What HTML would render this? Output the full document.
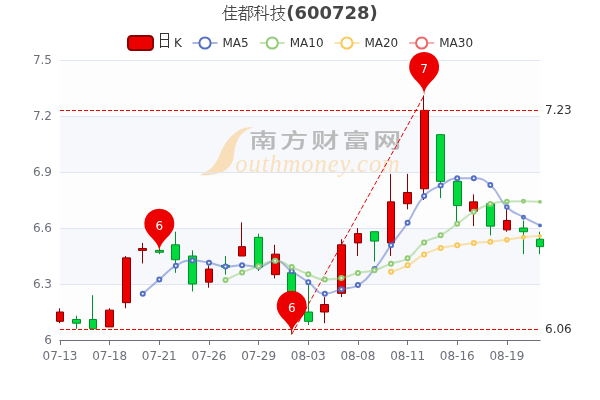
<!DOCTYPE html>
<html lang="zh"><head><meta charset="utf-8"><title>佳都科技(600728)</title>
<style>html,body{margin:0;padding:0;background:#fff}svg{display:block}text{font-family:"DejaVu Sans","Liberation Sans","Unifont","WenQuanYi Zen Hei","Noto Sans CJK SC",sans-serif}</style></head>
<body>
<svg width="600" height="400" viewBox="0 0 600 400">
<defs><clipPath id="g"><rect x="60" y="60" width="480" height="280"/></clipPath></defs>
<rect width="600" height="400" fill="#fff"/>
<rect x="60" y="284" width="480" height="56" fill="rgba(250,250,250,0.3)"/>
<rect x="60" y="228" width="480" height="56" fill="rgba(210,219,238,0.2)"/>
<rect x="60" y="172" width="480" height="56" fill="rgba(250,250,250,0.3)"/>
<rect x="60" y="116" width="480" height="56" fill="rgba(210,219,238,0.2)"/>
<rect x="60" y="60" width="480" height="56" fill="rgba(250,250,250,0.3)"/>
<g id="wm">
<path d="M253.6 126.9C252.15 127.05 247.65 127.05 244.9 127.8C242.15 128.55 239.45 129.9 237.1 131.4C234.75 132.9 232.62 135 230.8 136.8C228.97 138.6 227.42 140.42 226.15 142.2C224.87 143.97 224.02 145.8 223.15 147.45C222.27 149.1 221.65 150.42 220.9 152.1C220.15 153.77 219.5 155.75 218.65 157.5C217.8 159.25 216.97 160.9 215.8 162.6C214.62 164.3 213.17 166.2 211.6 167.7C210.02 169.2 208.35 170.35 206.35 171.6C204.35 172.85 200.72 174.6 199.6 175.2L199.6 175.2C201.15 175.17 206.05 175.3 208.9 175.05C211.75 174.8 214.35 174.3 216.7 173.7C219.05 173.1 221.17 172.35 223 171.45C224.82 170.55 226.25 169.57 227.65 168.3C229.05 167.02 230.45 165.35 231.4 163.8C232.35 162.25 232.92 160.55 233.35 159C233.77 157.45 233.7 156.25 233.95 154.5C234.2 152.75 234.4 150.5 234.85 148.5C235.3 146.5 235.87 144.45 236.65 142.5C237.42 140.55 238.3 138.5 239.5 136.8C240.7 135.1 242.4 133.55 243.85 132.3C245.3 131.05 246.57 130.2 248.2 129.3C249.82 128.4 252.7 127.3 253.6 126.9Z" fill="#f8deb9"/>
<text transform="translate(249.3 148.2) scale(1 0.715)" x="0" y="0" font-size="28" font-weight="500" fill="#b9b9b9" stroke="#b9b9b9" stroke-width="0.3" letter-spacing="3" style="font-family:'Noto Sans CJK SC','WenQuanYi Zen Hei',sans-serif">南方财富网</text>
<text x="235.3" y="171.8" font-size="24.5" font-style="italic" fill="#f9e0bc" letter-spacing="0.95" style="font-family:'Liberation Serif','DejaVu Serif',serif">outhmoney.com</text>
</g>
<path d="M60 340.5 H540" stroke="#E0E6F1" stroke-width="1" fill="none"/>
<path d="M60 284.5 H540" stroke="#E0E6F1" stroke-width="1" fill="none"/>
<path d="M60 228.5 H540" stroke="#E0E6F1" stroke-width="1" fill="none"/>
<path d="M60 172.5 H540" stroke="#E0E6F1" stroke-width="1" fill="none"/>
<path d="M60 116.5 H540" stroke="#E0E6F1" stroke-width="1" fill="none"/>
<path d="M60 60.5 H540" stroke="#E0E6F1" stroke-width="1" fill="none"/>
<path d="M59.5 340.5 H540.5" stroke="#6E7079" stroke-width="1" fill="none"/>
<path d="M60.5 340 V345" stroke="#6E7079" stroke-width="1" fill="none"/>
<path d="M109.5 340 V345" stroke="#6E7079" stroke-width="1" fill="none"/>
<path d="M159.5 340 V345" stroke="#6E7079" stroke-width="1" fill="none"/>
<path d="M209.5 340 V345" stroke="#6E7079" stroke-width="1" fill="none"/>
<path d="M258.5 340 V345" stroke="#6E7079" stroke-width="1" fill="none"/>
<path d="M308.5 340 V345" stroke="#6E7079" stroke-width="1" fill="none"/>
<path d="M358.5 340 V345" stroke="#6E7079" stroke-width="1" fill="none"/>
<path d="M407.5 340 V345" stroke="#6E7079" stroke-width="1" fill="none"/>
<path d="M457.5 340 V345" stroke="#6E7079" stroke-width="1" fill="none"/>
<path d="M507.5 340 V345" stroke="#6E7079" stroke-width="1" fill="none"/>
<text x="60" y="359.5" font-size="12" fill="#6E7079" text-anchor="middle">07-13</text>
<text x="109.66" y="359.5" font-size="12" fill="#6E7079" text-anchor="middle">07-18</text>
<text x="159.31" y="359.5" font-size="12" fill="#6E7079" text-anchor="middle">07-21</text>
<text x="208.97" y="359.5" font-size="12" fill="#6E7079" text-anchor="middle">07-26</text>
<text x="258.62" y="359.5" font-size="12" fill="#6E7079" text-anchor="middle">07-29</text>
<text x="308.28" y="359.5" font-size="12" fill="#6E7079" text-anchor="middle">08-03</text>
<text x="357.93" y="359.5" font-size="12" fill="#6E7079" text-anchor="middle">08-08</text>
<text x="407.59" y="359.5" font-size="12" fill="#6E7079" text-anchor="middle">08-11</text>
<text x="457.24" y="359.5" font-size="12" fill="#6E7079" text-anchor="middle">08-16</text>
<text x="506.9" y="359.5" font-size="12" fill="#6E7079" text-anchor="middle">08-19</text>
<text x="52" y="343.8" font-size="12" fill="#6E7079" text-anchor="end">6</text>
<text x="52" y="287.8" font-size="12" fill="#6E7079" text-anchor="end">6.3</text>
<text x="52" y="231.8" font-size="12" fill="#6E7079" text-anchor="end">6.6</text>
<text x="52" y="175.8" font-size="12" fill="#6E7079" text-anchor="end">6.9</text>
<text x="52" y="119.8" font-size="12" fill="#6E7079" text-anchor="end">7.2</text>
<text x="52" y="63.8" font-size="12" fill="#6E7079" text-anchor="end">7.5</text>
<path d="M56.5 312L63.5 312L63.5 321.33L56.5 321.33ZM59.5 308.27L59.5 312M59.5 323.2L59.5 321.33" fill="#ec0000" stroke="#8A0000" stroke-width="1"/>
<path d="M72.5 319.47L80.5 319.47L80.5 323.2L72.5 323.2ZM76.5 315.73L76.5 319.47M76.5 328.8L76.5 323.2" fill="#00da3c" stroke="#008F28" stroke-width="1"/>
<path d="M89.5 319.47L96.5 319.47L96.5 328.8L89.5 328.8ZM92.5 295.2L92.5 319.47M92.5 328.8L92.5 328.8" fill="#00da3c" stroke="#008F28" stroke-width="1"/>
<path d="M105.5 310.13L113.5 310.13L113.5 326.93L105.5 326.93ZM109.5 308.27L109.5 310.13M109.5 326.93L109.5 326.93" fill="#ec0000" stroke="#8A0000" stroke-width="1"/>
<path d="M122.5 257.87L130.5 257.87L130.5 302.67L122.5 302.67ZM125.5 256L125.5 257.87M125.5 308.27L125.5 302.67" fill="#ec0000" stroke="#8A0000" stroke-width="1"/>
<path d="M138.5 248.53L146.5 248.53L146.5 250.4L138.5 250.4ZM142.5 242.93L142.5 248.53M142.5 263.47L142.5 250.4" fill="#ec0000" stroke="#8A0000" stroke-width="1"/>
<path d="M155.5 250.4L163.5 250.4L163.5 252.27L155.5 252.27ZM159.5 248.53L159.5 250.4M159.5 254.13L159.5 252.27" fill="#00da3c" stroke="#008F28" stroke-width="1"/>
<path d="M171.5 244.8L179.5 244.8L179.5 259.73L171.5 259.73ZM175.5 231.73L175.5 244.8M175.5 272.8L175.5 259.73" fill="#00da3c" stroke="#008F28" stroke-width="1"/>
<path d="M188.5 256L196.5 256L196.5 284L188.5 284ZM192.5 250.4L192.5 256M192.5 291.47L192.5 284" fill="#00da3c" stroke="#008F28" stroke-width="1"/>
<path d="M205.5 269.07L212.5 269.07L212.5 282.13L205.5 282.13ZM208.5 265.33L208.5 269.07M208.5 287.73L208.5 282.13" fill="#ec0000" stroke="#8A0000" stroke-width="1"/>
<path d="M221.5 265.33L229.5 265.33L229.5 267.2L221.5 267.2ZM225.5 256L225.5 265.33M225.5 274.67L225.5 267.2" fill="#00da3c" stroke="#008F28" stroke-width="1"/>
<path d="M238.5 246.67L245.5 246.67L245.5 256L238.5 256ZM241.5 222.4L241.5 246.67M241.5 256L241.5 256" fill="#ec0000" stroke="#8A0000" stroke-width="1"/>
<path d="M254.5 237.33L262.5 237.33L262.5 267.2L254.5 267.2ZM258.5 233.6L258.5 237.33M258.5 270.93L258.5 267.2" fill="#00da3c" stroke="#008F28" stroke-width="1"/>
<path d="M271.5 254.13L279.5 254.13L279.5 274.67L271.5 274.67ZM274.5 244.8L274.5 254.13M274.5 278.4L274.5 274.67" fill="#ec0000" stroke="#8A0000" stroke-width="1"/>
<path d="M287.5 272.8L295.5 272.8L295.5 321.33L287.5 321.33ZM291.5 270.93L291.5 272.8M291.5 334.4L291.5 321.33" fill="#00da3c" stroke="#008F28" stroke-width="1"/>
<path d="M304.5 312L312.5 312L312.5 321.33L304.5 321.33ZM308.5 284L308.5 312M308.5 325.07L308.5 321.33" fill="#00da3c" stroke="#008F28" stroke-width="1"/>
<path d="M320.5 304.53L328.5 304.53L328.5 312L320.5 312ZM324.5 297.07L324.5 304.53M324.5 323.2L324.5 312" fill="#ec0000" stroke="#8A0000" stroke-width="1"/>
<path d="M337.5 244.8L345.5 244.8L345.5 293.33L337.5 293.33ZM341.5 239.2L341.5 244.8M341.5 297.07L341.5 293.33" fill="#ec0000" stroke="#8A0000" stroke-width="1"/>
<path d="M354.5 233.6L361.5 233.6L361.5 242.93L354.5 242.93ZM357.5 228L357.5 233.6M357.5 256L357.5 242.93" fill="#ec0000" stroke="#8A0000" stroke-width="1"/>
<path d="M370.5 231.73L378.5 231.73L378.5 241.07L370.5 241.07ZM374.5 231.73L374.5 231.73M374.5 261.6L374.5 241.07" fill="#00da3c" stroke="#008F28" stroke-width="1"/>
<path d="M387.5 201.87L394.5 201.87L394.5 242.93L387.5 242.93ZM390.5 173.87L390.5 201.87M390.5 256L390.5 242.93" fill="#ec0000" stroke="#8A0000" stroke-width="1"/>
<path d="M403.5 192.53L411.5 192.53L411.5 203.73L403.5 203.73ZM407.5 173.87L407.5 192.53M407.5 209.33L407.5 203.73" fill="#ec0000" stroke="#8A0000" stroke-width="1"/>
<path d="M420.5 110.4L428.5 110.4L428.5 188.8L420.5 188.8ZM423.5 95.47L423.5 110.4M423.5 200L423.5 188.8" fill="#ec0000" stroke="#8A0000" stroke-width="1"/>
<path d="M436.5 134.67L444.5 134.67L444.5 181.33L436.5 181.33ZM440.5 134.67L440.5 134.67M440.5 198.13L440.5 181.33" fill="#00da3c" stroke="#008F28" stroke-width="1"/>
<path d="M453.5 181.33L461.5 181.33L461.5 205.6L453.5 205.6ZM456.5 179.47L456.5 181.33M456.5 226.13L456.5 205.6" fill="#00da3c" stroke="#008F28" stroke-width="1"/>
<path d="M469.5 201.87L477.5 201.87L477.5 211.2L469.5 211.2ZM473.5 194.4L473.5 201.87M473.5 226.13L473.5 211.2" fill="#ec0000" stroke="#8A0000" stroke-width="1"/>
<path d="M486.5 203.73L494.5 203.73L494.5 226.13L486.5 226.13ZM490.5 201.87L490.5 203.73M490.5 235.47L490.5 226.13" fill="#00da3c" stroke="#008F28" stroke-width="1"/>
<path d="M503.5 220.53L510.5 220.53L510.5 229.87L503.5 229.87ZM506.5 209.33L506.5 220.53M506.5 231.73L506.5 229.87" fill="#ec0000" stroke="#8A0000" stroke-width="1"/>
<path d="M519.5 228L527.5 228L527.5 231.73L519.5 231.73ZM523.5 220.53L523.5 228M523.5 254.13L523.5 231.73" fill="#00da3c" stroke="#008F28" stroke-width="1"/>
<path d="M536.5 239.2L543.5 239.2L543.5 246.67L536.5 246.67ZM539.5 231.73L539.5 239.2M539.5 254.13L539.5 246.67" fill="#00da3c" stroke="#008F28" stroke-width="1"/>
<path d="M291.72 334.4L424.14 95.47" stroke="#ec0000" stroke-width="1" stroke-dasharray="4.56 2.28" fill="none"/>
<path d="M60 329.5 H540" stroke="#ec0000" stroke-width="1" stroke-dasharray="4 2" fill="none"/>
<text x="545" y="332.5" font-size="12" fill="#333">6.06</text>
<path d="M60 110.5 H540" stroke="#ec0000" stroke-width="1" stroke-dasharray="4 2" fill="none"/>
<text x="545" y="113.5" font-size="12" fill="#333">7.23</text>
<path d="M410.59 73.32A15 15 0 1 1 437.69 73.32C433.83 81.46 424.14 84.97 424.14 95.47C424.14 84.97 414.44 81.46 410.59 73.32Z" fill="#ec0000"/>
<text x="424.14" y="73.3" font-size="12" fill="#fff" text-anchor="middle">7</text>
<path d="M278.17 312.26A15 15 0 1 1 305.28 312.26C301.42 320.39 291.72 323.9 291.72 334.4C291.72 323.9 282.03 320.39 278.17 312.26Z" fill="#ec0000"/>
<text x="291.72" y="312.23" font-size="12" fill="#fff" text-anchor="middle">6</text>
<path d="M145.76 230.06A15 15 0 1 1 172.86 230.06C169.01 238.19 159.31 241.7 159.31 252.2C159.31 241.7 149.61 238.19 145.76 230.06Z" fill="#ec0000"/>
<text x="159.31" y="230.03" font-size="12" fill="#fff" text-anchor="middle">6</text>
<g clip-path="url(#g)">
<path d="M142.76 293.71C142.76 293.71 150.99 286.56 159.31 279.52C167.54 272.56 166.69 270.98 175.86 265.71C183.24 261.46 183.98 260.48 192.41 260.48C200.53 260.48 200.75 261.24 208.97 262.72C217.31 264.23 217.15 266.45 225.52 266.45C233.7 266.45 233.8 265.33 242.07 265.33C250.35 265.33 250.58 266.83 258.62 266.83C267.13 266.83 267.34 260.85 275.17 260.85C283.89 260.85 283.49 266.01 291.72 271.31C300.04 276.65 300.09 276.59 308.28 282.13C316.64 287.79 315.88 293.71 324.83 293.71C332.43 293.71 333.08 291.38 341.38 289.23C349.63 287.09 350.89 289.23 357.93 285.12C367.45 279.57 367.16 277.9 374.48 269.07C383.71 257.93 382.58 256.99 391.03 245.17C399.13 233.85 399.83 234.32 407.59 222.77C416.38 209.68 413.92 207.41 424.14 195.89C430.47 188.75 432.07 190.01 440.69 185.44C448.62 181.24 448.62 178.35 457.24 178.35C465.17 178.35 465.83 178.35 473.79 178.35C482.38 178.35 483.83 179.41 490.34 185.07C500.39 193.79 497.18 197.67 506.9 207.09C513.73 213.72 514.98 212.49 523.45 217.17C531.53 221.64 540 225.39 540 225.39" fill="none" stroke="#5470c6" stroke-width="2" stroke-opacity="0.5" stroke-linejoin="bevel"/>
</g>
<circle cx="142.76" cy="293.71" r="2" fill="#fff" stroke="#5470c6" stroke-width="2"/>
<circle cx="159.31" cy="279.52" r="2" fill="#fff" stroke="#5470c6" stroke-width="2"/>
<circle cx="175.86" cy="265.71" r="2" fill="#fff" stroke="#5470c6" stroke-width="2"/>
<circle cx="192.41" cy="260.48" r="2" fill="#fff" stroke="#5470c6" stroke-width="2"/>
<circle cx="208.97" cy="262.72" r="2" fill="#fff" stroke="#5470c6" stroke-width="2"/>
<circle cx="225.52" cy="266.45" r="2" fill="#fff" stroke="#5470c6" stroke-width="2"/>
<circle cx="242.07" cy="265.33" r="2" fill="#fff" stroke="#5470c6" stroke-width="2"/>
<circle cx="258.62" cy="266.83" r="2" fill="#fff" stroke="#5470c6" stroke-width="2"/>
<circle cx="275.17" cy="260.85" r="2" fill="#fff" stroke="#5470c6" stroke-width="2"/>
<circle cx="291.72" cy="271.31" r="2" fill="#fff" stroke="#5470c6" stroke-width="2"/>
<circle cx="308.28" cy="282.13" r="2" fill="#fff" stroke="#5470c6" stroke-width="2"/>
<circle cx="324.83" cy="293.71" r="2" fill="#fff" stroke="#5470c6" stroke-width="2"/>
<circle cx="341.38" cy="289.23" r="2" fill="#fff" stroke="#5470c6" stroke-width="2"/>
<circle cx="357.93" cy="285.12" r="2" fill="#fff" stroke="#5470c6" stroke-width="2"/>
<circle cx="374.48" cy="269.07" r="2" fill="#fff" stroke="#5470c6" stroke-width="2"/>
<circle cx="391.03" cy="245.17" r="2" fill="#fff" stroke="#5470c6" stroke-width="2"/>
<circle cx="407.59" cy="222.77" r="2" fill="#fff" stroke="#5470c6" stroke-width="2"/>
<circle cx="424.14" cy="195.89" r="2" fill="#fff" stroke="#5470c6" stroke-width="2"/>
<circle cx="440.69" cy="185.44" r="2" fill="#fff" stroke="#5470c6" stroke-width="2"/>
<circle cx="457.24" cy="178.35" r="2" fill="#fff" stroke="#5470c6" stroke-width="2"/>
<circle cx="473.79" cy="178.35" r="2" fill="#fff" stroke="#5470c6" stroke-width="2"/>
<circle cx="490.34" cy="185.07" r="1.95" fill="#fff" stroke="#5470c6" stroke-width="2"/>
<circle cx="506.9" cy="207.09" r="1.8" fill="#fff" stroke="#5470c6" stroke-width="2"/>
<circle cx="523.45" cy="217.17" r="1.48" fill="#fff" stroke="#5470c6" stroke-width="2"/>
<circle cx="540" cy="225.39" r="0.94" fill="#fff" stroke="#5470c6" stroke-width="2"/>
<g clip-path="url(#g)">
<path d="M225.52 280.08C225.52 280.08 233.66 275.94 242.07 272.43C250.21 269.03 250.3 269.22 258.62 266.27C266.85 263.34 266.96 260.67 275.17 260.67C283.51 260.67 283.53 263.64 291.72 267.01C300.08 270.45 299.83 271.1 308.28 274.29C316.38 277.36 316.37 279.52 324.83 279.52C332.92 279.52 333.27 279.52 341.38 278.03C349.82 276.47 349.53 274.98 357.93 272.99C366.08 271.06 366.45 272.45 374.48 270.19C383 267.79 382.67 266.67 391.03 263.65C399.22 260.7 400.42 262.81 407.59 258.24C416.97 252.26 414.91 248.96 424.14 242.56C431.46 237.48 432.87 239.73 440.69 235.28C449.42 230.31 449.01 229.56 457.24 223.71C465.56 217.8 465.07 216.97 473.79 211.76C481.62 207.08 481.69 206.58 490.34 203.92C498.25 201.49 498.58 201.68 506.9 201.49C515.13 201.31 515.17 201.31 523.45 201.31C531.73 201.31 540 201.87 540 201.87" fill="none" stroke="#91cc75" stroke-width="2" stroke-opacity="0.5" stroke-linejoin="bevel"/>
</g>
<circle cx="225.52" cy="280.08" r="2" fill="#fff" stroke="#91cc75" stroke-width="2"/>
<circle cx="242.07" cy="272.43" r="2" fill="#fff" stroke="#91cc75" stroke-width="2"/>
<circle cx="258.62" cy="266.27" r="2" fill="#fff" stroke="#91cc75" stroke-width="2"/>
<circle cx="275.17" cy="260.67" r="2" fill="#fff" stroke="#91cc75" stroke-width="2"/>
<circle cx="291.72" cy="267.01" r="2" fill="#fff" stroke="#91cc75" stroke-width="2"/>
<circle cx="308.28" cy="274.29" r="2" fill="#fff" stroke="#91cc75" stroke-width="2"/>
<circle cx="324.83" cy="279.52" r="2" fill="#fff" stroke="#91cc75" stroke-width="2"/>
<circle cx="341.38" cy="278.03" r="2" fill="#fff" stroke="#91cc75" stroke-width="2"/>
<circle cx="357.93" cy="272.99" r="2" fill="#fff" stroke="#91cc75" stroke-width="2"/>
<circle cx="374.48" cy="270.19" r="2" fill="#fff" stroke="#91cc75" stroke-width="2"/>
<circle cx="391.03" cy="263.65" r="2" fill="#fff" stroke="#91cc75" stroke-width="2"/>
<circle cx="407.59" cy="258.24" r="2" fill="#fff" stroke="#91cc75" stroke-width="2"/>
<circle cx="424.14" cy="242.56" r="2" fill="#fff" stroke="#91cc75" stroke-width="2"/>
<circle cx="440.69" cy="235.28" r="2" fill="#fff" stroke="#91cc75" stroke-width="2"/>
<circle cx="457.24" cy="223.71" r="2" fill="#fff" stroke="#91cc75" stroke-width="2"/>
<circle cx="473.79" cy="211.76" r="2" fill="#fff" stroke="#91cc75" stroke-width="2"/>
<circle cx="490.34" cy="203.92" r="1.95" fill="#fff" stroke="#91cc75" stroke-width="2"/>
<circle cx="506.9" cy="201.49" r="1.8" fill="#fff" stroke="#91cc75" stroke-width="2"/>
<circle cx="523.45" cy="201.31" r="1.48" fill="#fff" stroke="#91cc75" stroke-width="2"/>
<circle cx="540" cy="201.87" r="0.94" fill="#fff" stroke="#91cc75" stroke-width="2"/>
<g clip-path="url(#g)">
<path d="M391.03 271.87C391.03 271.87 399.76 269.46 407.59 265.33C416.31 260.73 415.41 258.99 424.14 254.41C431.96 250.31 432.17 250.3 440.69 247.97C448.72 245.78 448.96 246.6 457.24 245.36C465.51 244.12 465.49 243.94 473.79 243.03C482.04 242.12 482.08 242.54 490.34 241.72C498.64 240.9 498.64 240.9 506.9 239.76C515.19 238.61 515.13 238.08 523.45 237.15C531.68 236.22 540 236.03 540 236.03" fill="none" stroke="#fac858" stroke-width="2" stroke-opacity="0.5" stroke-linejoin="bevel"/>
</g>
<circle cx="391.03" cy="271.87" r="2" fill="#fff" stroke="#fac858" stroke-width="2"/>
<circle cx="407.59" cy="265.33" r="2" fill="#fff" stroke="#fac858" stroke-width="2"/>
<circle cx="424.14" cy="254.41" r="2" fill="#fff" stroke="#fac858" stroke-width="2"/>
<circle cx="440.69" cy="247.97" r="2" fill="#fff" stroke="#fac858" stroke-width="2"/>
<circle cx="457.24" cy="245.36" r="2" fill="#fff" stroke="#fac858" stroke-width="2"/>
<circle cx="473.79" cy="243.03" r="2" fill="#fff" stroke="#fac858" stroke-width="2"/>
<circle cx="490.34" cy="241.72" r="1.95" fill="#fff" stroke="#fac858" stroke-width="2"/>
<circle cx="506.9" cy="239.76" r="1.8" fill="#fff" stroke="#fac858" stroke-width="2"/>
<circle cx="523.45" cy="237.15" r="1.48" fill="#fff" stroke="#fac858" stroke-width="2"/>
<circle cx="540" cy="236.03" r="0.94" fill="#fff" stroke="#fac858" stroke-width="2"/>
<text x="300" y="19" font-size="18" fill="#464646" text-anchor="middle"><tspan font-size="16" style="font-family:Unifont,'WenQuanYi Zen Hei','Noto Sans CJK SC',sans-serif">佳都科技</tspan><tspan font-weight="bold">(600728)</tspan></text>
<rect x="128" y="36" width="25" height="14" rx="3.5" ry="3.5" fill="#ec0000" stroke="#8A0000" stroke-width="2"/>
<text x="157" y="47" font-size="12" fill="#333"><tspan font-size="16" dy="-1" style="font-family:Unifont,'WenQuanYi Zen Hei','Noto Sans CJK SC',sans-serif">日</tspan><tspan x="174" dy="1">K</tspan></text>
<path d="M192.5 43H217.5" stroke="#5470c6" stroke-width="2" stroke-opacity="0.5" fill="none"/>
<circle cx="205" cy="43" r="5.6" fill="#fff" stroke="#5470c6" stroke-width="2"/>
<text x="222.5" y="47" font-size="12" fill="#333">MA5</text>
<path d="M259.75 43H284.75" stroke="#91cc75" stroke-width="2" stroke-opacity="0.5" fill="none"/>
<circle cx="272.25" cy="43" r="5.6" fill="#fff" stroke="#91cc75" stroke-width="2"/>
<text x="289.75" y="47" font-size="12" fill="#333">MA10</text>
<path d="M334.4 43H359.4" stroke="#fac858" stroke-width="2" stroke-opacity="0.5" fill="none"/>
<circle cx="346.9" cy="43" r="5.6" fill="#fff" stroke="#fac858" stroke-width="2"/>
<text x="364.4" y="47" font-size="12" fill="#333">MA20</text>
<path d="M409.2 43H434.2" stroke="#ee6666" stroke-width="2" stroke-opacity="0.5" fill="none"/>
<circle cx="421.7" cy="43" r="5.6" fill="#fff" stroke="#ee6666" stroke-width="2"/>
<text x="439.2" y="47" font-size="12" fill="#333">MA30</text>
</svg>
</body></html>
